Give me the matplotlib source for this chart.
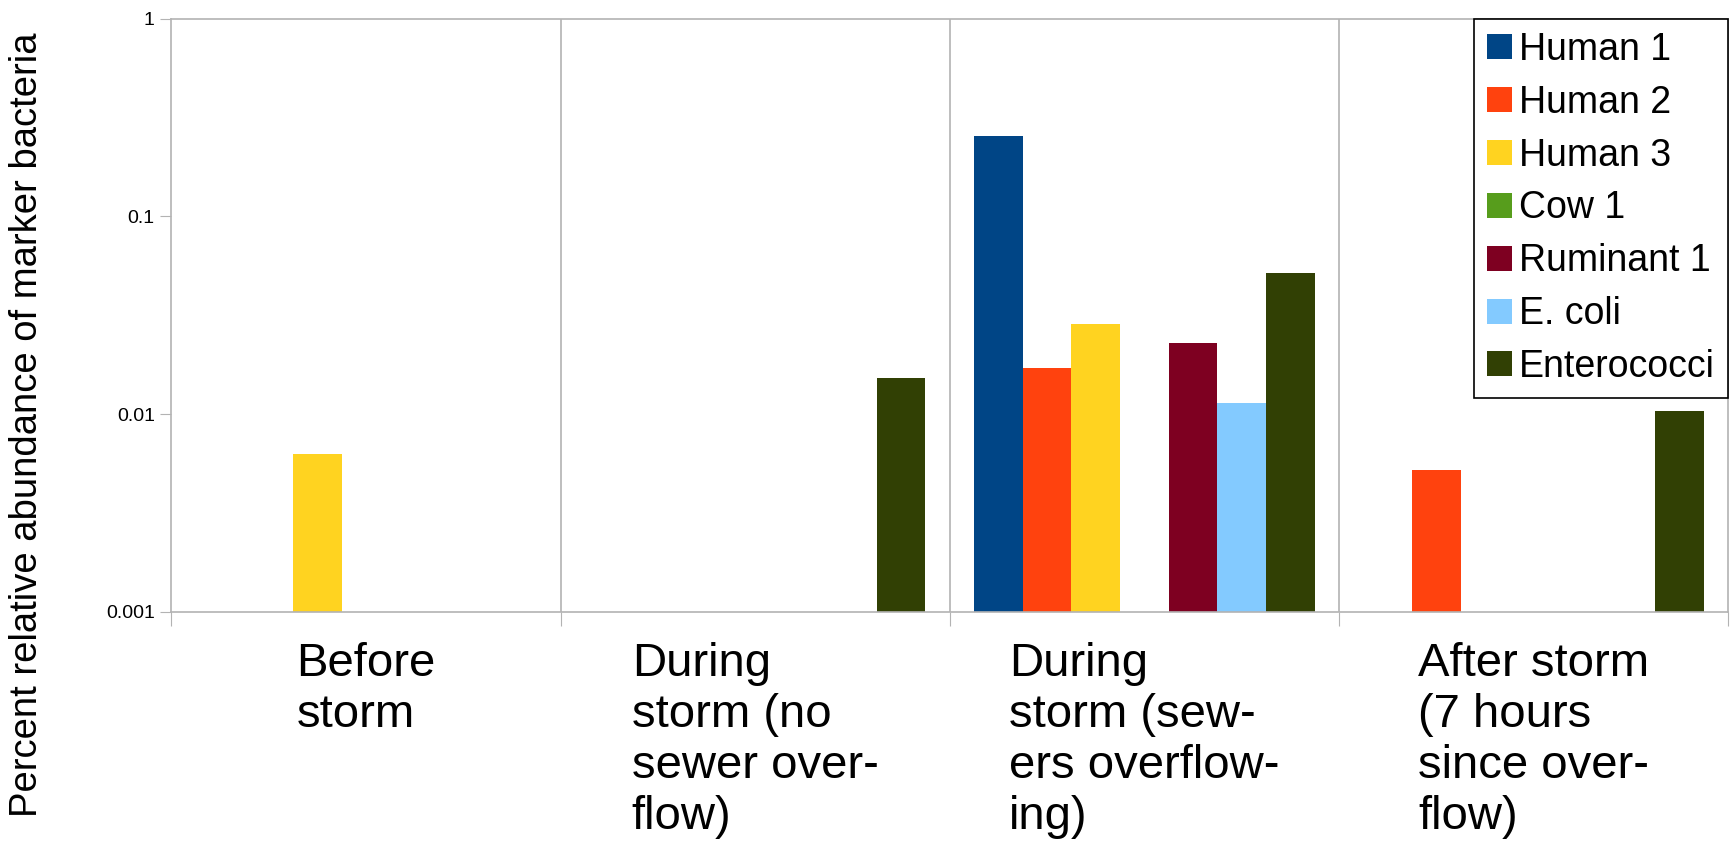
import numpy as np
import matplotlib
matplotlib.use("Agg")
import matplotlib.pyplot as plt
import matplotlib.transforms as mtransforms

plt.rcParams['font.family'] = ['Liberation Sans', 'DejaVu Sans']

categories = [
    "Before\nstorm",
    "During\nstorm (no\nsewer over-\nflow)",
    "During\nstorm (sew-\ners overflow-\ning)",
    "After storm\n(7 hours\nsince over-\nflow)",
]
series = ["Human 1", "Human 2", "Human 3", "Cow 1", "Ruminant 1", "E. coli", "Enterococci"]
colors = ["#004586", "#ff420e", "#ffd320", "#579d1c", "#7e0021", "#83caff", "#314004"]

# values per series, one per category (nan = not detected)
nan = np.nan
human1 = [nan, nan, 0.255, nan]
human2 = [nan, nan, 0.0172, 0.0052]
human3 = [0.0063, nan, 0.0285, nan]
cow1 = [nan, nan, nan, nan]
ruminant1 = [nan, nan, 0.0229, nan]
ecoli = [nan, nan, 0.0114, nan]
enterococci = [nan, 0.0152, 0.0515, 0.0104]
values = [human1, human2, human3, cow1, ruminant1, ecoli, enterococci]

yticks = [0.001, 0.01, 0.1, 1]
ytick_labels = ["0.001", "0.01", "0.1", "1"]

grey = "#b3b3b3"

fig = plt.figure(figsize=(17.35, 8.5), dpi=100)
ax = fig.add_axes([0.0988, 0.28, 0.8972, 0.698])

centers = np.arange(len(categories)) + 0.5
w = 0.125
for i, (name, vals, c) in enumerate(zip(series, values, colors)):
    ax.bar(centers + (i - 3) * w, vals, width=w, color=c, label=name)

ax.set_yscale("log")
ax.set_ylim(0.001, 1)
ax.set_xlim(0, len(categories))
ax.set_yticks(yticks)
ax.set_yticklabels(ytick_labels)
ax.minorticks_off()
ax.tick_params(axis="y", length=8, color=grey, labelsize=14, pad=4)

ax.set_xticks(np.arange(len(categories) + 1))
ax.set_xticklabels([])
ax.tick_params(axis="x", length=10, color=grey)
for b in range(1, len(categories)):
    ax.axvline(b, color=grey, lw=1.2, zorder=0)

for s in ax.spines.values():
    s.set_color(grey)
    s.set_linewidth(1.2)

trans = mtransforms.blended_transform_factory(ax.transData, ax.transAxes)
for cx, lab in zip(centers, categories):
    ax.text(cx, -0.05, lab, transform=trans, ha="center", va="top",
            multialignment="left", fontsize=34, linespacing=1.21)

fig.text(0.0155, 0.5, "Percent relative abundance of marker bacteria",
         rotation=90, ha="center", va="center", fontsize=27.5)

leg = ax.legend(loc="upper right", borderaxespad=0, fontsize=27, frameon=True,
                fancybox=False, edgecolor="black", framealpha=1,
                handlelength=0.65, handleheight=0.65, handletextpad=0.2,
                labelspacing=0.45, borderpad=0.35)
leg.get_frame().set_linewidth(1.2)

fig.savefig("out.png", dpi=100)
